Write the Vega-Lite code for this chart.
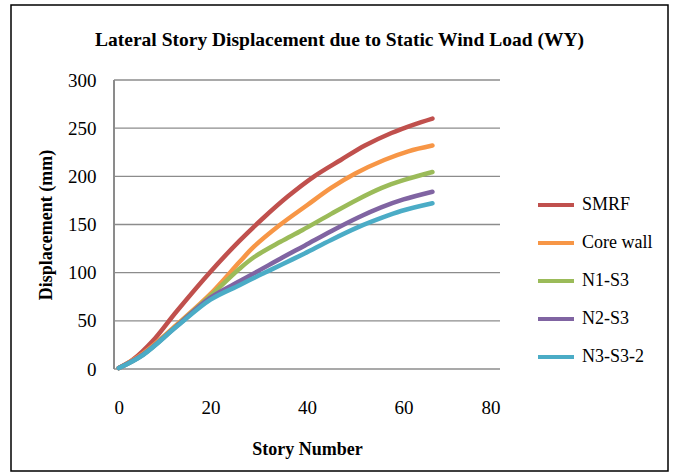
{
  "$schema": "https://vega.github.io/schema/vega-lite/v6.json",
  "autosize": "none",
  "width": 657,
  "height": 466,
  "padding": {"left": 11, "top": 5, "right": 10, "bottom": 2},
  "background": "white",
  "config": {
    "view": {"stroke": "#000000", "strokeWidth": 1.5},
    "font": "Liberation Serif"
  },
  "title": {
    "text": "Lateral Story Displacement due to Static Wind Load (WY)",
    "font": "Liberation Serif",
    "fontSize": 19.5,
    "fontWeight": "bold",
    "color": "black",
    "anchor": "middle",
    "frame": "group",
    "offset": -45
  },
  "datasets": {
    "grid": [{"g": 0}, {"g": 50}, {"g": 100}, {"g": 150}, {"g": 200}, {"g": 250}, {"g": 300}],
    "curves": [
      {"model": "SMRF", "story": 1, "disp": 1},
      {"model": "SMRF", "story": 4, "disp": 10},
      {"model": "SMRF", "story": 8, "disp": 29},
      {"model": "SMRF", "story": 13, "disp": 60},
      {"model": "SMRF", "story": 20, "disp": 101},
      {"model": "SMRF", "story": 26, "disp": 133},
      {"model": "SMRF", "story": 31, "disp": 157},
      {"model": "SMRF", "story": 36, "disp": 179},
      {"model": "SMRF", "story": 41.5, "disp": 200},
      {"model": "SMRF", "story": 47, "disp": 217},
      {"model": "SMRF", "story": 52, "disp": 232},
      {"model": "SMRF", "story": 57.5, "disp": 245},
      {"model": "SMRF", "story": 62, "disp": 253.5},
      {"model": "SMRF", "story": 66, "disp": 260},
      {"model": "Core wall", "story": 1, "disp": 1},
      {"model": "Core wall", "story": 6, "disp": 16},
      {"model": "Core wall", "story": 13, "disp": 46},
      {"model": "Core wall", "story": 20, "disp": 78},
      {"model": "Core wall", "story": 26, "disp": 111},
      {"model": "Core wall", "story": 29, "disp": 127},
      {"model": "Core wall", "story": 34.5, "disp": 150},
      {"model": "Core wall", "story": 40, "disp": 170},
      {"model": "Core wall", "story": 45, "disp": 188},
      {"model": "Core wall", "story": 50, "disp": 203},
      {"model": "Core wall", "story": 56, "disp": 217},
      {"model": "Core wall", "story": 61, "disp": 226},
      {"model": "Core wall", "story": 66, "disp": 232},
      {"model": "N1-S3", "story": 1, "disp": 1},
      {"model": "N1-S3", "story": 6, "disp": 15},
      {"model": "N1-S3", "story": 13, "disp": 45},
      {"model": "N1-S3", "story": 20, "disp": 76},
      {"model": "N1-S3", "story": 26, "disp": 104},
      {"model": "N1-S3", "story": 29, "disp": 116},
      {"model": "N1-S3", "story": 34.5, "disp": 132},
      {"model": "N1-S3", "story": 39, "disp": 144},
      {"model": "N1-S3", "story": 45, "disp": 161},
      {"model": "N1-S3", "story": 50.5, "disp": 176},
      {"model": "N1-S3", "story": 55.5, "disp": 188},
      {"model": "N1-S3", "story": 60, "disp": 196},
      {"model": "N1-S3", "story": 66, "disp": 204.5},
      {"model": "N2-S3", "story": 1, "disp": 1},
      {"model": "N2-S3", "story": 6, "disp": 15},
      {"model": "N2-S3", "story": 13, "disp": 44.5},
      {"model": "N2-S3", "story": 20, "disp": 74},
      {"model": "N2-S3", "story": 26, "disp": 91},
      {"model": "N2-S3", "story": 30, "disp": 102},
      {"model": "N2-S3", "story": 35, "disp": 116},
      {"model": "N2-S3", "story": 39.5, "disp": 128},
      {"model": "N2-S3", "story": 45, "disp": 143},
      {"model": "N2-S3", "story": 50.5, "disp": 157},
      {"model": "N2-S3", "story": 55.5, "disp": 168},
      {"model": "N2-S3", "story": 60, "disp": 176},
      {"model": "N2-S3", "story": 66, "disp": 184},
      {"model": "N3-S3-2", "story": 1, "disp": 1},
      {"model": "N3-S3-2", "story": 6, "disp": 14.5},
      {"model": "N3-S3-2", "story": 13, "disp": 44},
      {"model": "N3-S3-2", "story": 20, "disp": 72},
      {"model": "N3-S3-2", "story": 26, "disp": 87},
      {"model": "N3-S3-2", "story": 30, "disp": 97},
      {"model": "N3-S3-2", "story": 35, "disp": 109},
      {"model": "N3-S3-2", "story": 39.5, "disp": 120},
      {"model": "N3-S3-2", "story": 45, "disp": 134},
      {"model": "N3-S3-2", "story": 50.5, "disp": 147},
      {"model": "N3-S3-2", "story": 55, "disp": 156},
      {"model": "N3-S3-2", "story": 59.5, "disp": 164},
      {"model": "N3-S3-2", "story": 66, "disp": 172}
    ]
  },
  "layer": [
    {
      "data": {"name": "grid"},
      "mark": {"type": "rule", "color": "#8c8c8c", "strokeWidth": 1.4},
      "encoding": {
        "y": {"field": "g", "type": "quantitative"},
        "x": {"datum": 0, "type": "quantitative"},
        "x2": {"datum": 80}
      }
    },
    {
      "data": {"name": "grid"},
      "mark": {"type": "rule", "color": "#8c8c8c", "strokeWidth": 1.4},
      "encoding": {
        "x": {"datum": 0, "type": "quantitative"},
        "y": {"datum": 0, "type": "quantitative"},
        "y2": {"datum": 300}
      }
    },
    {
      "data": {"name": "curves"},
      "mark": {"type": "line", "interpolate": "catmull-rom", "strokeWidth": 4.5, "strokeCap": "round"},
      "encoding": {
        "x": {
          "field": "story",
          "type": "quantitative",
          "scale": {"domain": [0, 80], "range": [103, 489], "nice": false, "zero": false},
          "axis": {
            "title": "Story Number",
            "values": [0, 20, 40, 60, 80],
            "grid": false,
            "domain": false,
            "ticks": false,
            "offset": -102,
            "labelFont": "Liberation Serif",
            "labelFontSize": 19,
            "labelColor": "black",
            "labelPadding": 29,
            "titleFont": "Liberation Serif",
            "titleFontSize": 18,
            "titleFontWeight": "bold",
            "titleColor": "black",
            "titlePadding": 23
          }
        },
        "y": {
          "field": "disp",
          "type": "quantitative",
          "scale": {"domain": [0, 300], "range": [364, 75], "nice": false, "zero": false},
          "axis": {
            "title": "Displacement (mm)",
            "values": [0, 50, 100, 150, 200, 250, 300],
            "grid": false,
            "domain": false,
            "ticks": false,
            "offset": -103,
            "labelFont": "Liberation Serif",
            "labelFontSize": 19,
            "labelColor": "black",
            "labelPadding": 18,
            "titleFont": "Liberation Serif",
            "titleFontSize": 18,
            "titleFontWeight": "bold",
            "titleColor": "black",
            "titlePadding": 12
          }
        },
        "color": {
          "field": "model",
          "type": "nominal",
          "scale": {
            "domain": ["SMRF", "Core wall", "N1-S3", "N2-S3", "N3-S3-2"],
            "range": ["#C0504D", "#F79646", "#9BBB59", "#8064A2", "#4BACC6"]
          },
          "legend": {
            "title": null,
            "orient": "none",
            "legendX": 525,
            "legendY": 180,
            "symbolType": "stroke",
            "symbolSize": 1296,
            "symbolStrokeWidth": 4,
            "labelFont": "Liberation Serif",
            "labelFontSize": 18,
            "labelColor": "black",
            "labelOffset": 6,
            "rowPadding": 9
          }
        }
      }
    }
  ]
}
